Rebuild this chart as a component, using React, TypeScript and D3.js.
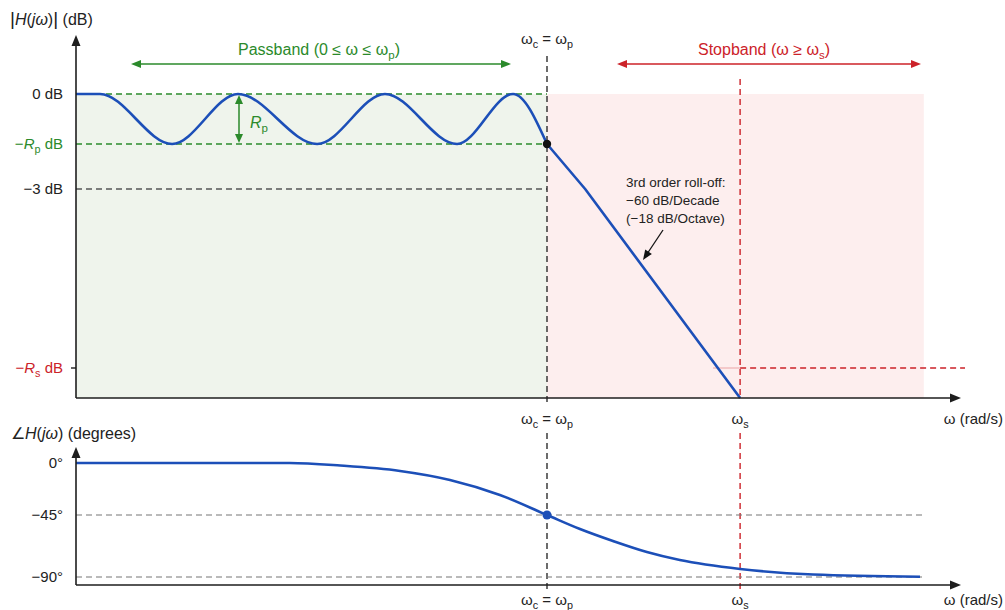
import React from "react";
import * as d3 from "d3";

const W = 1005;
const H = 610;
const FONT = "'Liberation Sans', Arial, Helvetica, sans-serif";

// Frequencies normalised to the cutoff (ω / ωc)
const omegaC = 1;
const omegaS = 1.41;
const omegaShadeEnd = 1.8;
const omegaAxisEnd = 1.88;

// Magnitude levels (dB): 0, −Rp, −3, −Rs, bottom of the plot
const Rp = 1;
const Rs = 40;
const magLevels = [0, -Rp, -3, -Rs, -46];

// Chebyshev-type passband ripple, extrema
const passbandOmega = [0, 0.051, 0.204, 0.344, 0.512, 0.656, 0.809, 0.928, 1];
const passbandDb = [0, 0, -1, 0, -1, 0, -1, 0, -1];

// Roll-off beyond the cutoff
const rolloffOmega = [1, 1.081, 1.41];
const rolloffDb = [-1, -3, -46];

// Phase response (degrees)
const phaseOmega = [0, 0.454, 0.561, 0.688, 0.794, 0.9, 1, 1.07, 1.14, 1.212, 1.282, 1.41, 1.565, 1.792];
const phaseDeg = [0, 0, -2.2, -6.9, -14.7, -27.7, -45, -55.2, -63.9, -71.9, -77.7, -84.2, -88.2, -89.8];
const phaseLevels = [0, -45, -90, -95];
const phaseTickLabels = ["0°", "−45°", "−90°"];

const BLUE = "#1c4fb8";
const GREEN = "#2b8a2b";
const RED = "#cc2229";
const AXIS = "#1e1e1e";
const GRAY = "#555";

const x = d3.scaleLinear().domain([0, 1]).range([76, 547]);
const yMag = d3.scaleLinear().domain(magLevels).range([94, 144, 189, 368, 398]);
const yPh = d3.scaleLinear().domain(phaseLevels).range([463, 515, 577, 585]);

const magLine = d3
  .line<number>()
  .x((_, i) => x(passbandOmega[i]))
  .y((d) => yMag(d))
  .curve(d3.curveMonotoneX);

const rollLine = d3
  .line<number>()
  .x((_, i) => x(rolloffOmega[i]))
  .y((d) => yMag(d));

const phaseLine = d3
  .line<number>()
  .x((_, i) => x(phaseOmega[i]))
  .y((d) => yPh(d))
  .curve(d3.curveMonotoneX);

const Sub = ({ children }: { children: React.ReactNode }) => (
  <tspan fontSize="0.72em" baselineShift={-4}>
    {children}
  </tspan>
);

const I = ({ children }: { children: React.ReactNode }) => <tspan fontStyle="italic">{children}</tspan>;

function arrowHead(x1: number, y1: number, x2: number, y2: number, len = 9, half = 4) {
  // triangle with its tip at (x2, y2), pointing away from (x1, y1)
  const a = Math.atan2(y2 - y1, x2 - x1);
  const bx = x2 - len * Math.cos(a);
  const by = y2 - len * Math.sin(a);
  const px = -Math.sin(a) * half;
  const py = Math.cos(a) * half;
  return `M${x2},${y2}L${bx + px},${by + py}L${bx - px},${by - py}Z`;
}

export default function App() {
  const xL = x(0);
  const xc = x(omegaC);
  const xs = x(omegaS);
  const xShade = x(omegaShadeEnd);
  const xEnd = x(omegaAxisEnd);
  const yTop0 = yMag(0);
  const yTopAxis = yMag(magLevels[magLevels.length - 1]);
  const yBotAxis = yPh(phaseLevels[phaseLevels.length - 1]);
  const yRp = yMag(-Rp);
  const y3 = yMag(-3);
  const yRs = yMag(-Rs);
  const dash = "6 4";

  return (
    <div style={{ position: "fixed", left: 0, top: 0, width: W, height: H, background: "#fff" }}>
      <svg width={W} height={H} viewBox={`0 0 ${W} ${H}`} style={{ display: "block", fontFamily: FONT }}>
        <rect width={W} height={H} fill="#fff" />

        {/* band shading */}
        <rect x={xL} y={yTop0} width={xc - xL} height={yTopAxis - yTop0} fill="#eff4ec" />
        <rect x={xc} y={yTop0} width={xShade - xc} height={yTopAxis - yTop0} fill="#fdeeee" />

        {/* passband reference levels */}
        <line x1={xL} x2={xc} y1={yTop0} y2={yTop0} stroke={GREEN} strokeWidth={1.4} strokeDasharray={dash} />
        <line x1={xL} x2={xc} y1={yRp} y2={yRp} stroke={GREEN} strokeWidth={1.4} strokeDasharray={dash} />
        <line x1={xL} x2={xc} y1={y3} y2={y3} stroke={GRAY} strokeWidth={1.4} strokeDasharray={dash} />

        {/* stopband attenuation level */}
        <line x1={713} x2={xs} y1={yRs} y2={yRs} stroke={RED} strokeOpacity={0.3} strokeWidth={1.2} />
        <line x1={xs} x2={965} y1={yRs} y2={yRs} stroke={RED} strokeWidth={1.4} strokeDasharray={dash} />

        {/* cutoff and stopband-edge markers */}
        <line x1={xc} x2={xc} y1={56} y2={yTopAxis + 7} stroke={AXIS} strokeWidth={1.3} strokeDasharray={dash} />
        <line x1={xs} x2={xs} y1={79} y2={yTopAxis} stroke={RED} strokeWidth={1.4} strokeDasharray={dash} />
        <line x1={xc} x2={xc} y1={433} y2={yBotAxis + 7} stroke={AXIS} strokeWidth={1.3} strokeDasharray={dash} />
        <line x1={xs} x2={xs} y1={433} y2={yBotAxis + 4} stroke={RED} strokeWidth={1.4} strokeDasharray={dash} />

        {/* phase reference levels */}
        {[-45, -90].map((d) => (
          <line key={d} x1={xL} x2={xShade} y1={yPh(d)} y2={yPh(d)} stroke="#777" strokeWidth={1.2} strokeDasharray={dash} />
        ))}

        {/* magnitude response */}
        <path d={magLine(passbandDb) ?? ""} fill="none" stroke={BLUE} strokeWidth={2.6} />
        <path d={rollLine(rolloffDb) ?? ""} fill="none" stroke={BLUE} strokeWidth={2.6} strokeLinejoin="round" />
        <circle cx={xc} cy={yRp} r={4.2} fill="#111" />

        {/* phase response */}
        <path d={phaseLine(phaseDeg) ?? ""} fill="none" stroke={BLUE} strokeWidth={2.6} />
        <circle cx={xc} cy={yPh(-45)} r={4.5} fill={BLUE} />

        {/* axes */}
        <line x1={xL} x2={xL} y1={43} y2={yTopAxis} stroke={AXIS} strokeWidth={1.6} />
        <path d={arrowHead(xL, 60, xL, 35, 11, 4.5)} fill={AXIS} />
        <line x1={xL} x2={xEnd - 8} y1={yTopAxis} y2={yTopAxis} stroke={AXIS} strokeWidth={1.6} />
        <path d={arrowHead(900, yTopAxis, 961, yTopAxis, 11, 4.5)} fill={AXIS} />
        <line x1={xL - 5} x2={xL} y1={yRs} y2={yRs} stroke={AXIS} strokeWidth={1.4} />

        <line x1={xL} x2={xL} y1={455} y2={yBotAxis} stroke={AXIS} strokeWidth={1.6} />
        <path d={arrowHead(xL, 470, xL, 447, 11, 4.5)} fill={AXIS} />
        <line x1={xL} x2={xEnd - 8} y1={yBotAxis} y2={yBotAxis} stroke={AXIS} strokeWidth={1.6} />
        <path d={arrowHead(900, yBotAxis, 961, yBotAxis, 11, 4.5)} fill={AXIS} />

        {/* axis titles */}
        <text x={10} y={25} fontSize={16} fill="#222">
          <tspan fontSize={19}>|</tspan>
          <I>H</I>(<I>jω</I>)<tspan fontSize={19}>|</tspan> (dB)
        </text>
        <text x={11} y={439} fontSize={16} fill="#222">
          ∠<I>H</I>(<I>jω</I>) (degrees)
        </text>

        {/* magnitude tick labels */}
        <g fontSize={15} textAnchor="end">
          <text x={63} y={yTop0 + 5} fill="#222">0 dB</text>
          <text x={63} y={yRp + 5} fill={GREEN}>
            −<I>R</I>
            <Sub>p</Sub> dB
          </text>
          <text x={63} y={y3 + 5} fill="#222">−3 dB</text>
          <text x={63} y={yRs + 5} fill={RED}>
            −<I>R</I>
            <Sub>s</Sub> dB
          </text>
        </g>

        {/* phase tick labels */}
        <g fontSize={15} textAnchor="end" fill="#222">
          {phaseTickLabels.map((t, i) => (
            <text key={t} x={63} y={yPh(phaseLevels[i]) + 5}>
              {t}
            </text>
          ))}
        </g>

        {/* frequency labels */}
        <g fontSize={15} fill="#222" textAnchor="middle">
          <text x={xc} y={44}>
            ω<Sub>c</Sub> = ω<Sub>p</Sub>
          </text>
          <text x={xc} y={424}>
            ω<Sub>c</Sub> = ω<Sub>p</Sub>
          </text>
          <text x={xs} y={424}>
            ω<Sub>s</Sub>
          </text>
          <text x={xc} y={605}>
            ω<Sub>c</Sub> = ω<Sub>p</Sub>
          </text>
          <text x={xs} y={605}>
            ω<Sub>s</Sub>
          </text>
        </g>
        <g fontSize={15} fill="#222" textAnchor="end">
          <text x={1003} y={424}>ω (rad/s)</text>
          <text x={1003} y={605}>ω (rad/s)</text>
        </g>

        {/* band annotations */}
        <text x={319} y={55} fontSize={16} fill={GREEN} textAnchor="middle">
          Passband (0 ≤ ω ≤ ω<Sub>p</Sub>)
        </text>
        <line x1={134} x2={508} y1={64} y2={64} stroke={GREEN} strokeWidth={1.5} />
        <path d={arrowHead(200, 64, 131, 64, 10, 4)} fill={GREEN} />
        <path d={arrowHead(400, 64, 511, 64, 10, 4)} fill={GREEN} />

        <text x={764} y={55} fontSize={16} fill={RED} textAnchor="middle">
          Stopband (ω ≥ ω<Sub>s</Sub>)
        </text>
        <line x1={620} x2={918} y1={64} y2={64} stroke={RED} strokeWidth={1.5} />
        <path d={arrowHead(700, 64, 617, 64, 10, 4)} fill={RED} />
        <path d={arrowHead(800, 64, 921, 64, 10, 4)} fill={RED} />

        {/* ripple height */}
        <line x1={239} x2={239} y1={yTop0 + 4} y2={yRp - 4} stroke={GREEN} strokeWidth={1.5} />
        <path d={arrowHead(239, 120, 239, yTop0 + 1, 9, 4)} fill={GREEN} />
        <path d={arrowHead(239, 120, 239, yRp - 1, 9, 4)} fill={GREEN} />
        <text x={250} y={128} fontSize={16} fill={GREEN}>
          <I>R</I>
          <Sub>p</Sub>
        </text>

        {/* roll-off note */}
        <g fontSize={13.5} fill="#222">
          <text x={626} y={187}>3rd order roll-off:</text>
          <text x={626} y={205}>−60 dB/Decade</text>
          <text x={626} y={223}>(−18 dB/Octave)</text>
        </g>
        <line x1={663} y1={230} x2={647} y2={254} stroke="#111" strokeWidth={1.3} />
        <path d={arrowHead(663, 230, 643, 260, 10, 4)} fill="#111" />
      </svg>
    </div>
  );
}
